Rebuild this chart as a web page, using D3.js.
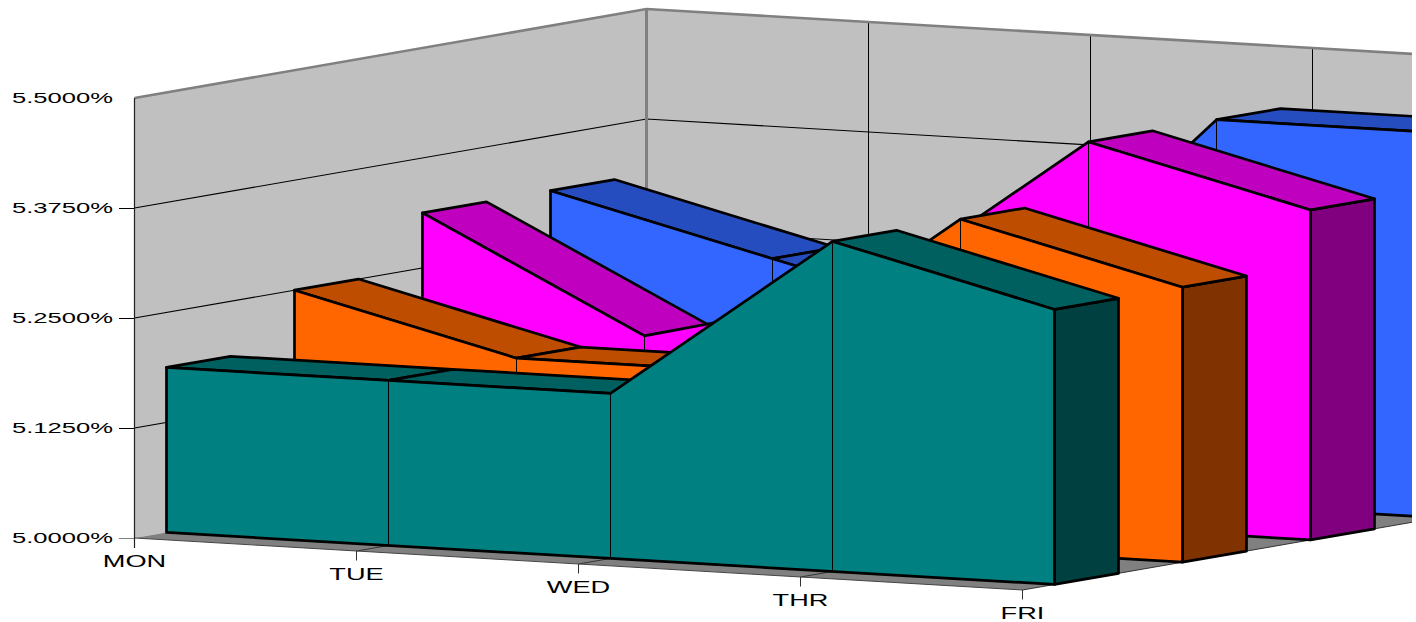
<!DOCTYPE html>
<html><head><meta charset="utf-8">
<script src="https://cdn.jsdelivr.net/npm/d3@7"></script>
<style>html,body{margin:0;padding:0;background:#fff;overflow:hidden}svg{display:block}
text{font-family:"Liberation Sans",Arial,sans-serif;fill:#000}</style></head><body>
<script>
const days = ["MON","TUE","WED","THR","FRI"];
const yTicks = [5.0,5.125,5.25,5.375,5.5];
const seriesNames = ["Series A","Series B","Series C","Series D"];
const teal    = [5.1875,5.1875,5.1875,5.375,5.3125];
const orange  = [5.25,5.1875,5.1875,5.375,5.3125];
const magenta = [5.3125,5.1875,5.25,5.4375,5.375];
const blue    = [5.3125,5.25,5.1875,5.4375,5.4375];
const seriesValues = [teal,orange,magenta,blue];
const faceColors = ["#008080","#ff6600","#ff00ff","#3366ff"];
const topColors  = ["#006060","#bf4d00","#bf00bf","#264dbf"];
const sideColors = ["#004040","#803300","#800080","#1a3380"];

const W=1416,H=622;
const svg=d3.select("body").append("svg").attr("width",W).attr("height",H);
svg.append("defs").append("clipPath").attr("id","c").append("rect").attr("width",1412).attr("height",H);
const root=svg.append("g").attr("clip-path","url(#c)");

const catX=d3.scalePoint().domain(days).range([134.5,1022.5]);
const catDrop=d3.scalePoint().domain(days).range([0,52]);
const depthX=d3.scaleLinear().domain([0,4]).range([0,512]);
const depthY=d3.scaleLinear().domain([0,4]).range([0,-89]);
const yVal=d3.scaleLinear().domain([5,5.5]).range([538,98]);

// projected screen position: category position along x, depth in series units, value
function P(dayPos,d,v){
  const a=dayPos*(days.length-1);
  const x=d3.scaleLinear().domain([0,4]).range([catX(days[0]),catX(days[4])])(a)+depthX(d);
  const drop=d3.scaleLinear().domain([0,4]).range([catDrop(days[0]),catDrop(days[4])])(a);
  return [x,yVal(v)+drop+depthY(d)];
}
const poly=pts=>d3.line()(pts)+"Z";
const c=i=>i/(days.length-1);

// walls
const right=1.4;
root.append("path").attr("d",poly([P(0,0,5.5),P(0,4,5.5),P(0,4,5),P(0,0,5)])).attr("fill","#c0c0c0");
root.append("path").attr("d",poly([P(0,4,5.5),P(right,4,5.5),P(right,4,5),P(0,4,5)])).attr("fill","#c0c0c0");
root.append("path").attr("d",poly([P(0,0,5),P(1,0,5),P(1,4,5),P(0,4,5)])).attr("fill","#808080");
// value gridlines
yTicks.slice(1,4).forEach(t=>{
  root.append("path").attr("d",d3.line()([P(0,0,t),P(0,4,t),P(right,4,t)])).attr("fill","none").attr("stroke","#000").attr("stroke-width",1.1);
});
// category gridlines on back wall and floor
days.forEach((d,i)=>{
  if(i>0){
    root.append("line").attr("x1",P(c(i),4,5.5)[0]).attr("y1",P(c(i),4,5.5)[1]).attr("x2",P(c(i),4,5)[0]).attr("y2",P(c(i),4,5)[1]).attr("stroke","#000");
    root.append("line").attr("x1",P(c(i),0,5)[0]).attr("y1",P(c(i),0,5)[1]).attr("x2",P(c(i),4,5)[0]).attr("y2",P(c(i),4,5)[1]).attr("stroke","#333");
  }
});
// wall borders
root.append("path").attr("d",d3.line()([P(0,0,5.5),P(0,4,5.5),P(right,4,5.5)])).attr("fill","none").attr("stroke","#808080").attr("stroke-width",2.6);
root.append("line").attr("x1",P(0,4,5.5)[0]).attr("y1",P(0,4,5.5)[1]).attr("x2",P(0,4,5)[0]).attr("y2",P(0,4,5)[1]).attr("stroke","#808080").attr("stroke-width",3);
root.append("path").attr("d",d3.line()([P(0,0,5),P(1,0,5)])).attr("fill","none").attr("stroke","#444").attr("stroke-width",1);

// series, back to front
d3.range(seriesValues.length-1,-1,-1).forEach(s=>{
  const v=seriesValues[s], d0=s+0.25, d1=s+0.75;
  const g=root.append("g").attr("class","series").attr("data-name",seriesNames[s]);
  const stroke=sel=>sel.attr("stroke","#000").attr("stroke-width",2.7).attr("stroke-linejoin","round");
  // end face
  const n=v.length-1;
  stroke(g.append("path").attr("d",poly([P(1,d0,v[n]),P(1,d1,v[n]),P(1,d1,5),P(1,d0,5)])).attr("fill",sideColors[s]));
  // top strips facing the viewer
  d3.range(n).forEach(i=>{
    const a=P(c(i),d0,v[i]),b=P(c(i+1),d0,v[i+1]),e=P(c(i),d1,v[i]);
    const cross=(b[0]-a[0])*(e[1]-a[1])-(b[1]-a[1])*(e[0]-a[0]);
    if(cross<0){
      stroke(g.append("path").attr("d",poly([a,b,P(c(i+1),d1,v[i+1]),e])).attr("fill",topColors[s]));
    }
  });
  // front face
  const topLine=v.map((val,i)=>P(c(i),d0,val));
  stroke(g.append("path").attr("d",poly([...topLine,P(1,d0,5),P(0,d0,5)])).attr("fill",faceColors[s]));
  d3.range(1,n).forEach(i=>{
    const a=P(c(i),d0,v[i]),b=P(c(i),d0,5);
    g.append("line").attr("x1",a[0]).attr("y1",a[1]).attr("x2",b[0]).attr("y2",b[1]).attr("stroke","#000").attr("stroke-width",1);
  });
});

// value axis
const yAxis=d3.axisLeft(yVal).tickValues(yTicks).tickSize(15).tickPadding(6).tickFormat(t=>t.toFixed(4)+"%");
const ax=svg.append("g").attr("transform","translate(134,0)").call(yAxis);
ax.select(".domain").remove();
ax.selectAll(".tick line").attr("stroke",t=>t===5?"#808080":"#000").attr("stroke-width",1).attr("opacity",t=>t===5.5?0:1);
ax.selectAll(".tick text").attr("font-family",'"Liberation Sans",Arial,sans-serif').attr("font-size",15.5).attr("textLength",101).attr("lengthAdjust","spacingAndGlyphs").attr("fill","#000");
svg.append("line").attr("x1",134.5).attr("x2",134.5).attr("y1",yVal(5.5)).attr("y2",548).attr("stroke","#222").attr("stroke-width",1.2);

// category axis
days.forEach((d,i)=>{
  const p=P(c(i),0,5);
  if(i>0) svg.append("line").attr("x1",p[0]).attr("x2",p[0]).attr("y1",p[1]).attr("y2",p[1]+9.5).attr("stroke","#333");
  svg.append("text").attr("transform",`translate(${p[0]},${p[1]+29}) scale(1.7,1)`).attr("text-anchor","middle").attr("font-size",16).text(d);
});
</script></body></html>
